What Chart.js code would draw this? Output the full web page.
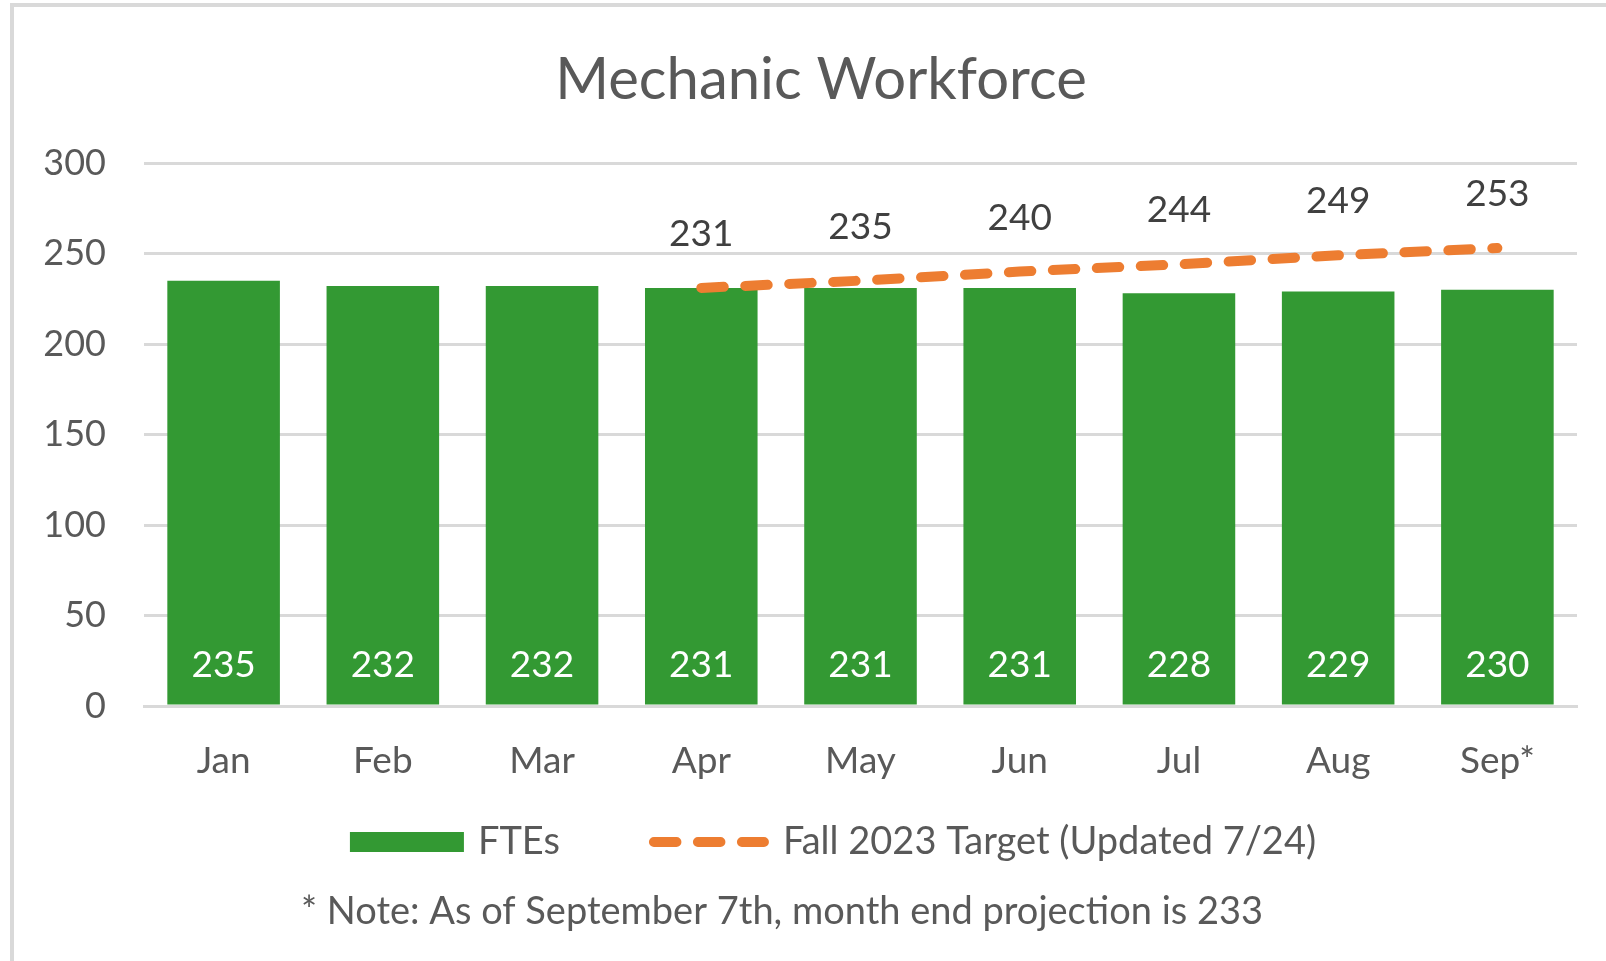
<!DOCTYPE html>
<html>
<head>
<meta charset="utf-8">
<script src="https://cdn.jsdelivr.net/npm/chart.js@4.4.1/dist/chart.umd.min.js"></script>
<style>
html,body{margin:0;padding:0;background:#ffffff;overflow:hidden}
#wrap{width:1606px;height:961px;position:relative}
canvas{display:block}
</style>
</head>
<body>
<div id="wrap"><canvas id="c" width="1606" height="961"></canvas></div>
<script>
// ---- data ----
const months = ['Jan', 'Feb', 'Mar', 'Apr', 'May', 'Jun', 'Jul', 'Aug', 'Sep*'];
const ftes = [235, 232, 232, 231, 231, 231, 228, 229, 230];
const target = [null, null, null, 231, 235, 240, 244, 249, 253];
const yTicks = [0, 50, 100, 150, 200, 250, 300];
const seriesNames = ['FTEs', 'Fall 2023 Target (Updated 7/24)'];
const titleText = 'Mechanic Workforce';
const noteText = '* Note: As of September 7th, month end projection is 233';

const FONT = 'Lato, "Open Sans", sans-serif';
const GREEN = '#339933';
const ORANGE = '#ED7D31';
const GRID = '#D9D9D9';
const TXT = '#595959';

const framePlugin = {
  id: 'frame',
  beforeDraw(chart, args, o) {
    const ctx = chart.ctx;
    ctx.save();
    ctx.fillStyle = '#ffffff';
    ctx.fillRect(0, 0, chart.width, chart.height);
    ctx.strokeStyle = o.color;
    ctx.lineWidth = o.width;
    ctx.strokeRect(o.x, o.y, chart.width * 2, chart.height * 2);
    // chart title
    ctx.fillStyle = o.titleColor;
    ctx.font = o.titleSize + 'px ' + FONT;
    ctx.textAlign = 'center';
    ctx.textBaseline = 'middle';
    ctx.fillText(o.title, o.titleX, o.titleY);
    ctx.restore();
  }
};

const valueLabels = {
  id: 'valueLabels',
  afterDatasetsDraw(chart, args, o) {
    const ctx = chart.ctx;
    ctx.save();
    ctx.textAlign = 'center';
    ctx.textBaseline = 'middle';
    ctx.font = o.size + 'px ' + FONT;
    const barMeta = chart.getDatasetMeta(0);
    ctx.fillStyle = o.barColor;
    barMeta.data.forEach((el, i) => {
      ctx.fillText(String(chart.data.datasets[0].data[i]), el.x, el.base - o.barInset);
    });
    const lineMeta = chart.getDatasetMeta(1);
    ctx.fillStyle = o.lineColor;
    lineMeta.data.forEach((el, i) => {
      const v = chart.data.datasets[1].data[i];
      if (v === null || v === undefined) return;
      ctx.fillText(String(v), el.x, el.y - o.lineOffset);
    });
    ctx.restore();
  }
};

const customLegend = {
  id: 'customLegend',
  afterDraw(chart, args, o) {
    const ctx = chart.ctx;
    const ds = chart.data.datasets;
    ctx.save();
    ctx.font = o.size + 'px ' + FONT;
    ctx.textBaseline = 'middle';
    ctx.textAlign = 'left';
    const w0 = ctx.measureText(ds[0].label).width;
    const w1 = ctx.measureText(ds[1].label).width;
    const total = o.boxW + o.textGap + w0 + o.itemGap + o.lineW + o.textGap + w1;
    let x = o.cx - total / 2;
    const y = o.y;
    ctx.fillStyle = ds[0].backgroundColor;
    ctx.fillRect(x, y - o.boxH / 2, o.boxW, o.boxH);
    x += o.boxW + o.textGap;
    ctx.fillStyle = o.color;
    ctx.fillText(ds[0].label, x, y + o.textDy);
    x += w0 + o.itemGap;
    const cap = ds[1].borderWidth / 2;
    ctx.strokeStyle = ds[1].borderColor;
    ctx.lineWidth = ds[1].borderWidth;
    ctx.lineCap = 'round';
    ctx.setLineDash(ds[1].borderDash);
    ctx.beginPath();
    ctx.moveTo(x + cap, y);
    ctx.lineTo(x + o.lineW - cap, y);
    ctx.stroke();
    ctx.setLineDash([]);
    x += o.lineW + o.textGap;
    ctx.fillStyle = o.color;
    ctx.fillText(ds[1].label, x, y + o.textDy);
    // note
    ctx.textAlign = 'center';
    ctx.font = o.noteSize + 'px ' + FONT;
    ctx.fillText(o.note, o.noteX, o.noteY);
    ctx.restore();
  }
};

new Chart(document.getElementById('c'), {
  data: {
    labels: months,
    datasets: [
      {
        type: 'bar',
        label: seriesNames[0],
        data: ftes,
        backgroundColor: GREEN,
        borderWidth: 0,
        categoryPercentage: 0.707,
        barPercentage: 1.0,
        order: 2
      },
      {
        type: 'line',
        label: seriesNames[1],
        data: target,
        borderColor: ORANGE,
        backgroundColor: ORANGE,
        borderWidth: 10,
        borderDash: [22.5, 21.5],
        borderCapStyle: 'round',
        pointRadius: 0,
        pointHoverRadius: 0,
        fill: false,
        tension: 0,
        order: 1
      }
    ]
  },
  options: {
    responsive: false,
    animation: false,
    devicePixelRatio: 1,
    layout: { padding: { left: 0, right: 29, top: 163, bottom: 180 } },
    plugins: {
      legend: { display: false },
      tooltip: { enabled: false },
      title: { display: false },
      frame: { color: GRID, width: 4, x: 12, y: 5, title: titleText, titleColor: TXT, titleSize: 58, titleX: 821, titleY: 80 },
      valueLabels: { size: 37, barColor: '#ffffff', lineColor: '#404040', barInset: 39, lineOffset: 54 },
      customLegend: {
        size: 38, color: TXT, cx: 833, y: 842, boxW: 114, boxH: 20, textGap: 14, itemGap: 89, lineW: 120, textDy: 0,
        note: noteText, noteSize: 38, noteX: 782, noteY: 912
      }
    },
    scales: {
      x: {
        grid: { display: false, drawTicks: false },
        border: { display: true, color: GRID, width: 3 },
        ticks: { color: TXT, padding: 33, font: { family: FONT, size: 37 } },
        afterFit(s) { s.height = 75; }
      },
      y: {
        min: 0,
        max: 300,
        grid: { color: GRID, lineWidth: 3, drawTicks: false },
        border: { display: false },
        ticks: { color: TXT, padding: 38, stepSize: 50, font: { family: FONT, size: 36 } },
        afterBuildTicks(s) { s.ticks = yTicks.map(v => ({ value: v })); },
        afterFit(s) { s.width = 144; }
      }
    }
  },
  plugins: [framePlugin, valueLabels, customLegend]
});
</script>
</body>
</html>
